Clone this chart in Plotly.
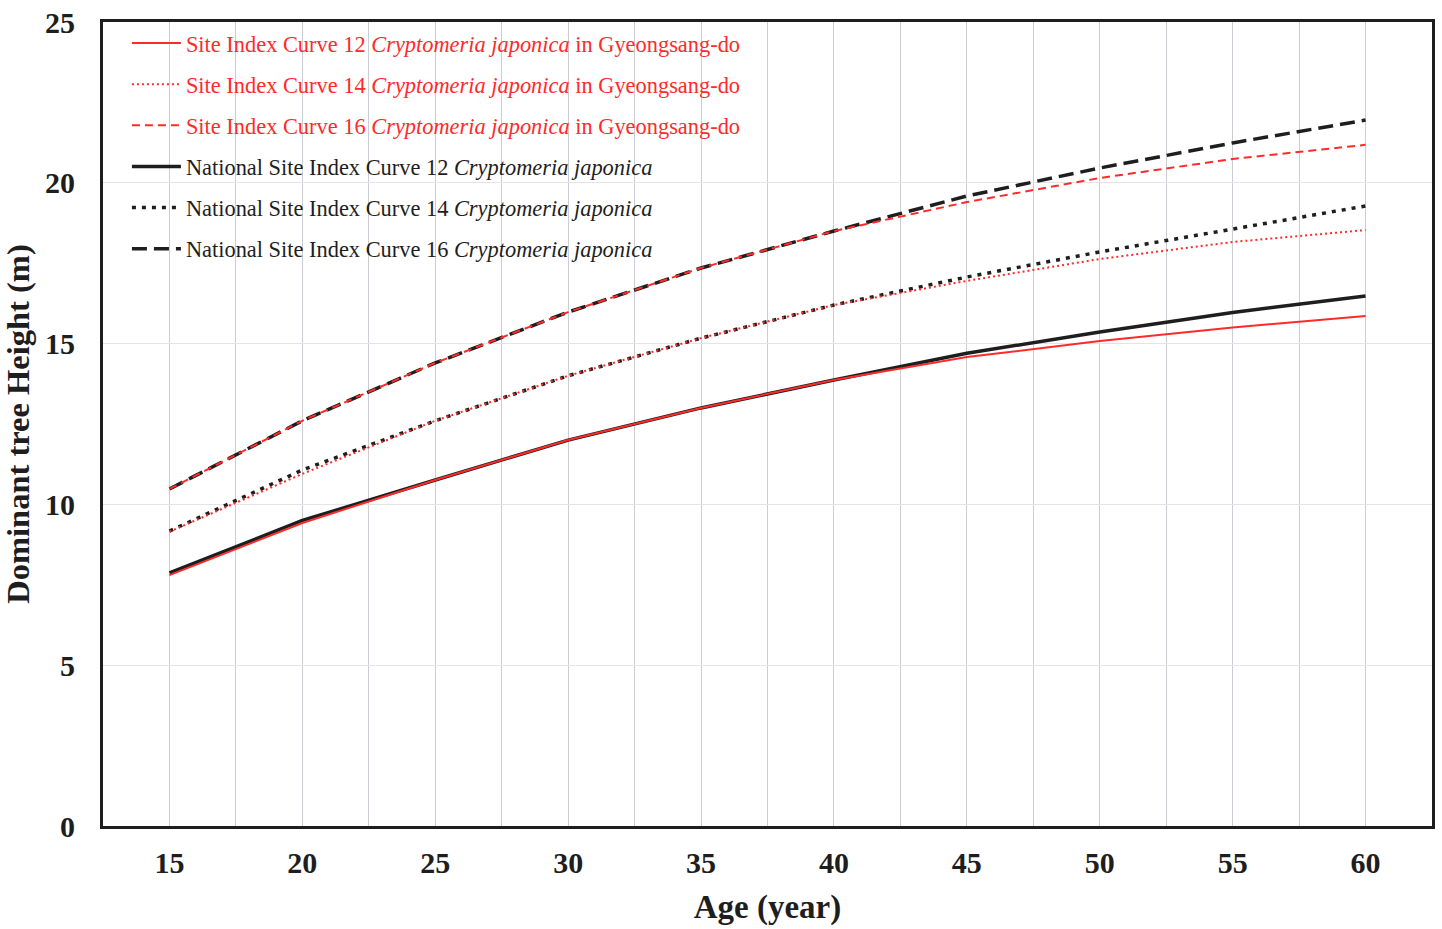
import plotly.graph_objects as go

age = [15, 20, 25, 30, 35, 40, 45, 50, 55, 60]

# Gyeongsang-do site index curves
gs_si12 = [7.8, 9.42, 10.76, 12.0, 13.0, 13.87, 14.58, 15.08, 15.5, 15.86]
gs_si14 = [9.15, 10.95, 12.6, 14.0, 15.17, 16.2, 16.95, 17.63, 18.16, 18.53]
gs_si16 = [10.48, 12.6, 14.4, 15.98, 17.35, 18.5, 19.4, 20.15, 20.74, 21.18]

# National site index curves
nat_si12 = [7.87, 9.5, 10.76, 12.0, 13.0, 13.87, 14.7, 15.36, 15.97, 16.48]
nat_si14 = [9.17, 11.07, 12.6, 14.0, 15.17, 16.2, 17.07, 17.85, 18.56, 19.28]
nat_si16 = [10.48, 12.6, 14.4, 15.98, 17.35, 18.5, 19.59, 20.46, 21.24, 21.95]

RED = "#ff2a2a"
BLACK = "#1e1e1e"
SPECIES = "<i>Cryptomeria japonica</i>"

fig = go.Figure()

black_series = [
    (nat_si12, "solid", 3.5, "National Site Index Curve 12 " + SPECIES, 4),
    (nat_si14, "4px,6px", 3.5, "National Site Index Curve 14 " + SPECIES, 5),
    (nat_si16, "15px,7px", 3.5, "National Site Index Curve 16 " + SPECIES, 6),
]
red_series = [
    (gs_si12, "solid", 2, "Site Index Curve 12 " + SPECIES + " in Gyeongsang-do", 1),
    (gs_si14, "2px,3px", 2, "Site Index Curve 14 " + SPECIES + " in Gyeongsang-do", 2),
    (gs_si16, "8px,5px", 2, "Site Index Curve 16 " + SPECIES + " in Gyeongsang-do", 3),
]

for vals, dash, w, name, rank in black_series:
    fig.add_trace(go.Scatter(
        x=age, y=vals, mode="lines",
        line=dict(color=BLACK, width=w, dash=dash),
        name=f"<span style='color:{BLACK}'>{name}</span>",
        legendrank=rank, legendgroup=str(rank),
    ))
for vals, dash, w, name, rank in red_series:
    fig.add_trace(go.Scatter(
        x=age, y=vals, mode="lines",
        line=dict(color=RED, width=w, dash=dash),
        name=f"<span style='color:{RED}'>{name}</span>",
        legendrank=rank, legendgroup=str(rank),
    ))

FONT = "Liberation Serif"

fig.update_layout(
    width=1442, height=929,
    margin=dict(l=103, r=10, t=22, b=103),
    paper_bgcolor="white", plot_bgcolor="white",
    font=dict(family=FONT, color="#1e1e1e"),
    showlegend=True,
    legend=dict(
        x=0.018, y=1.0, xanchor="left", yanchor="top",
        bgcolor="rgba(0,0,0,0)", borderwidth=0,
        font=dict(family=FONT, size=22.4),
        tracegroupgap=9, itemwidth=49,
    ),
    xaxis=dict(
        range=[12.5, 62.5], tickvals=age, ticktext=[str(a) for a in age],
        showgrid=True, gridcolor="#cacdd2", gridwidth=1,
        minor=dict(dtick=2.5, tick0=12.5, showgrid=True, gridcolor="#cacdd2", gridwidth=1),
        showline=True, linecolor="#1e1e1e", linewidth=3, mirror=True,
        ticks="", ticklabelstandoff=8, automargin=False, ticklabeloverflow="allow",
        tickfont=dict(family=FONT, size=30, color="#1e1e1e", weight="bold"),
        title=dict(text="<b>Age (year)</b>", font=dict(family=FONT, size=33), standoff=17),
        zeroline=False,
    ),
    yaxis=dict(
        range=[0, 25], dtick=5,
        showgrid=True, gridcolor="#e3e4e6", gridwidth=1,
        showline=True, linecolor="#1e1e1e", linewidth=3, mirror=True,
        ticks="", ticklabelstandoff=19, automargin=False, ticklabeloverflow="allow",
        tickfont=dict(family=FONT, size=30, color="#1e1e1e", weight="bold"),
        title=dict(text="<b>Dominant tree Height (m)</b>", font=dict(family=FONT, size=32.5), standoff=15),
        zeroline=False,
    ),
)

# remove the browser's default 8px body margin so the figure fills the window exactly
fig.write_html(
    "out.html",
    config={"displayModeBar": False},
    post_script="document.body.style.margin='0';",
)
